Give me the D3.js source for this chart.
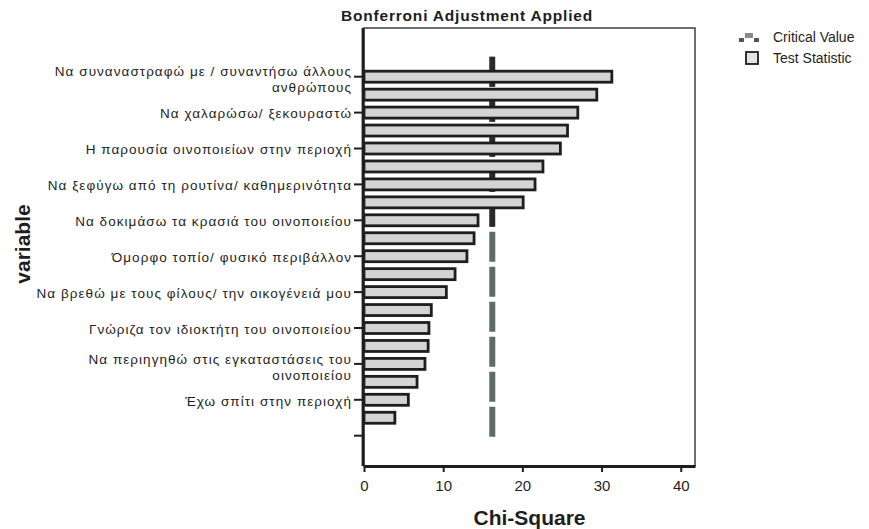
<!DOCTYPE html>
<html>
<head>
<meta charset="utf-8">
<script src="https://cdn.jsdelivr.net/npm/d3@7/dist/d3.min.js"></script>
<style>
  html, body { margin: 0; padding: 0; background: #fff; }
  svg { display: block; font-family: "Liberation Sans", Arial, sans-serif; }
</style>
</head>
<body>
<svg id="chart" width="869" height="529"></svg>
<script>
// Chi-square test statistic per variable (sorted, largest first)
const chiSquare = [31.3, 29.4, 27.0, 25.7, 24.8, 22.6, 21.6, 20.1, 14.4, 13.9,
                   13.0, 11.5, 10.4, 8.5, 8.2, 8.1, 7.7, 6.7, 5.6, 3.9];

// Bonferroni-adjusted critical value
const criticalValue = 16.2;

// Tick labels shown on every second row (row index -> label lines)
const tickRows = [0, 2, 4, 6, 8, 10, 12, 14, 16, 18, 20];
const tickLabels = [
  ["Να συναναστραφώ με / συναντήσω άλλους", "ανθρώπους"],
  ["Να χαλαρώσω/ ξεκουραστώ"],
  ["Η παρουσία οινοποιείων στην περιοχή"],
  ["Να ξεφύγω από τη ρουτίνα/ καθημερινότητα"],
  ["Να δοκιμάσω τα κρασιά του οινοποιείου"],
  ["Όμορφο τοπίο/ φυσικό περιβάλλον"],
  ["Να βρεθώ με τους φίλους/ την οικογένειά μου"],
  ["Γνώριζα τον ιδιοκτήτη του οινοποιείου"],
  ["Να περιηγηθώ στις εγκαταστάσεις του", "οινοποιείου"],
  ["Έχω σπίτι στην περιοχή"],
  [""]
];

const xTicks = [0, 10, 20, 30, 40];

const svg = d3.select("#chart");
const frame = { left: 364, right: 695, top: 28, bottom: 466 };

const x = d3.scaleLinear().domain([0, 41.8]).range([frame.left, frame.right]);
const rows = d3.range(21);
const y = d3.scalePoint().domain(rows).range([76.7, 435.7]);
const barH = 11;
const ink = "#1e1e1e";

// Plot frame (light top/right edges)
svg.append("rect")
  .attr("x", frame.left).attr("y", frame.top)
  .attr("width", frame.right - frame.left).attr("height", frame.bottom - frame.top)
  .attr("fill", "none").attr("stroke", "#333").attr("stroke-width", 1.4);

// Critical value line: dashed, darker over the upper rows
const dashTop = y(0) - y.step() * 1.11;
const dashBottom = y(20) + 1;
const split = dashTop + 35 * 5 - 2.5;
svg.append("line")
  .attr("x1", x(criticalValue)).attr("x2", x(criticalValue))
  .attr("y1", dashTop).attr("y2", dashBottom)
  .attr("stroke", "#5f6b69").attr("stroke-width", 6)
  .attr("stroke-dasharray", "30,5");
svg.append("line")
  .attr("x1", x(criticalValue)).attr("x2", x(criticalValue))
  .attr("y1", dashTop).attr("y2", split)
  .attr("stroke", "#2a2a2a").attr("stroke-width", 5.5)
  .attr("stroke-dasharray", "30,5");

// Test statistic bars
svg.append("g").selectAll("rect")
  .data(chiSquare)
  .join("rect")
  .attr("x", x(0))
  .attr("y", (d, i) => y(i) - barH / 2)
  .attr("width", d => x(d) - x(0))
  .attr("height", barH)
  .attr("fill", "#d4d4d4")
  .attr("stroke", ink)
  .attr("stroke-width", 2.8);

// X axis
const xAxis = svg.append("g")
  .attr("transform", `translate(0,${frame.bottom})`)
  .call(d3.axisBottom(x).tickValues(xTicks).tickSize(6).tickSizeOuter(0).tickFormat(d3.format("d")));
xAxis.select(".domain").attr("stroke", ink).attr("stroke-width", 2.8);
xAxis.selectAll(".tick line").attr("stroke", ink).attr("stroke-width", 2);
xAxis.selectAll(".tick text")
  .attr("y", 14).attr("font-size", 15).attr("fill", ink)
  .attr("font-family", "Liberation Sans, Arial, sans-serif");

// Y axis line
svg.append("line")
  .attr("x1", frame.left - 1).attr("x2", frame.left - 1)
  .attr("y1", frame.top).attr("y2", frame.bottom)
  .attr("stroke", ink).attr("stroke-width", 2.8);

// Y ticks and labels
const yt = svg.append("g").selectAll("g")
  .data(tickRows.map((r, i) => ({ row: r, lines: tickLabels[i] })))
  .join("g")
  .attr("transform", d => `translate(0,${y(d.row)})`);
yt.append("line")
  .attr("x1", frame.left - 10).attr("x2", frame.left - 1)
  .attr("stroke", ink).attr("stroke-width", 2);
yt.each(function(d) {
  const g = d3.select(this);
  const offs = d.lines.length > 1 ? [-5, 11] : [1];
  d.lines.forEach((t, k) => {
    g.append("text")
      .attr("x", frame.left - 12)
      .attr("y", offs[k])
      .attr("dy", "0.35em")
      .attr("text-anchor", "end")
      .attr("font-size", 13.5)
      .attr("letter-spacing", 1.05)
      .attr("fill", ink)
      .text(t);
  });
});

// Titles
svg.append("text")
  .attr("x", 467).attr("y", 21)
  .attr("text-anchor", "middle")
  .attr("font-size", 15.5).attr("font-weight", "bold").attr("letter-spacing", 0.8)
  .attr("fill", ink)
  .text("Bonferroni Adjustment Applied");

svg.append("text")
  .attr("x", (frame.left + frame.right) / 2).attr("y", 525)
  .attr("text-anchor", "middle")
  .attr("font-size", 21).attr("font-weight", "bold").attr("fill", ink)
  .text("Chi-Square");

svg.append("text")
  .attr("transform", "translate(30,244) rotate(-90)")
  .attr("text-anchor", "middle")
  .attr("font-size", 21).attr("font-weight", "bold").attr("fill", ink)
  .text("variable");

// Legend
const lg = svg.append("g").attr("transform", "translate(739,37)");
lg.append("rect").attr("x", 0).attr("y", 1).attr("width", 5).attr("height", 4).attr("fill", "#555");
lg.append("rect").attr("x", 6).attr("y", -4).attr("width", 8).attr("height", 5).attr("fill", "#888");
lg.append("rect").attr("x", 15).attr("y", 1).attr("width", 5).attr("height", 4).attr("fill", "#555");
lg.append("text").attr("x", 34).attr("y", 0).attr("dy", "0.35em")
  .attr("font-size", 14).attr("fill", ink).text("Critical Value");
lg.append("rect").attr("x", 7).attr("y", 15).attr("width", 12).attr("height", 12)
  .attr("fill", "#e4e4e4").attr("stroke", ink).attr("stroke-width", 1.8);
lg.append("text").attr("x", 34).attr("y", 21).attr("dy", "0.35em")
  .attr("font-size", 14).attr("fill", ink).text("Test Statistic");
</script>
</body>
</html>
